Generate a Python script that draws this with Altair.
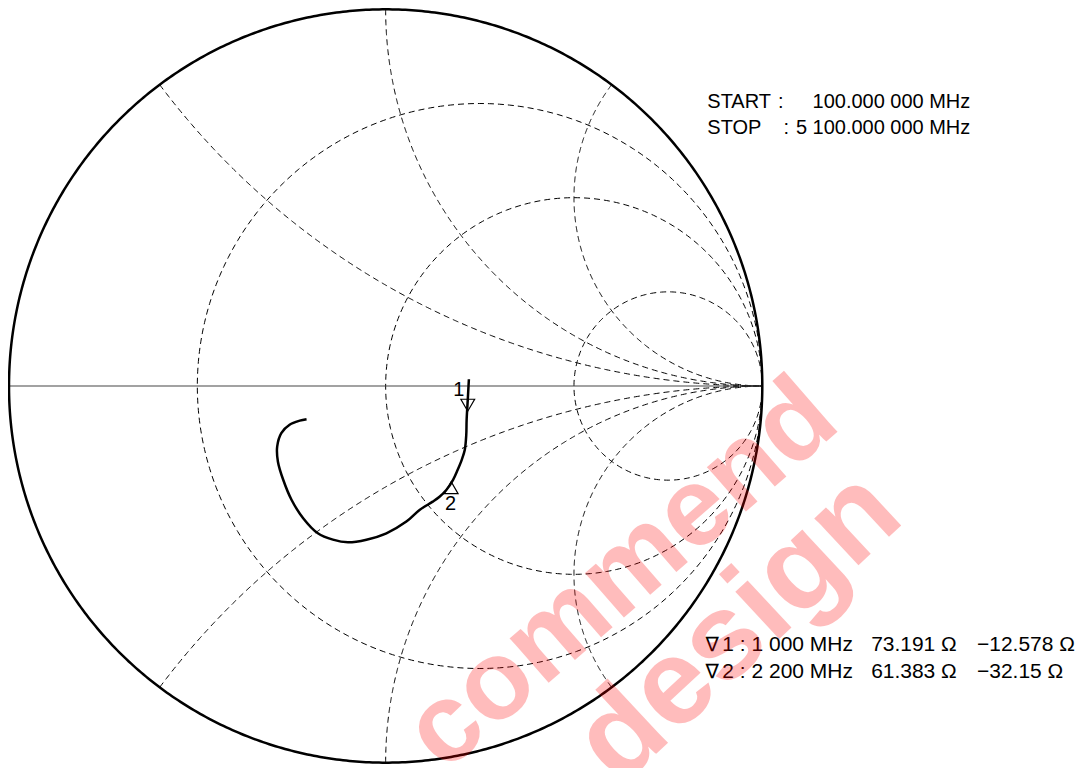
import altair as alt
import numpy as np
import pandas as pd

# Smith chart grid values
R_CIRCLES = [1/3, 1.0, 3.0]
X_ARCS = [0.5, 1.0, 2.0, -0.5, -1.0, -2.0]

trace_re = [-0.210, -0.228, -0.255, -0.277, -0.288, -0.286, -0.272, -0.250, -0.219,
            -0.180, -0.140, -0.100, -0.051, 0.002, 0.055, 0.090, 0.125, 0.143,
            0.161, 0.179, 0.191, 0.202, 0.210, 0.214, 0.215, 0.218, 0.221]
trace_im = [-0.088, -0.092, -0.103, -0.125, -0.161, -0.201, -0.249, -0.302, -0.351,
            -0.391, -0.408, -0.415, -0.408, -0.391, -0.360, -0.329, -0.307, -0.294,
            -0.276, -0.249, -0.223, -0.196, -0.170, -0.130, -0.090, -0.037, 0.018]

# markers
marker_names = ["1", "2"]
marker_re = [0.218, 0.174]
marker_im = [-0.051, -0.270]
marker_shapes = ["triangle-down", "triangle-up"]
label_re = [0.194, 0.172]
label_im = [-0.011, -0.313]

# header text
head_left = ["START", "STOP"]
head_colon_re = [1.042, 1.056]
head_values = ["100.000 000 MHz", "5 100.000 000 MHz"]
head_im = [0.739, 0.670]

# marker readout
read_sym = ["\u2207", "\u2207"]
read_freq = ["1 : 1 000 MHz", "2 : 2 200 MHz"]
read_res = ["73.191 \u03a9", "61.383 \u03a9"]
read_reac = ["\u221212.578 \u03a9", "\u221232.15 \u03a9"]
read_im = [-0.703, -0.775]

# watermark
wm_text = ["commend", "design"]
wm_re = [0.626, 0.935]
wm_im = [-0.501, -0.640]
wm_angle = [319, 317]
wm_size = [112, 122]

FONT = "Liberation Sans"

# ---------- build grid geometry ----------
rows = []
for k, r in enumerate(R_CIRCLES):
    c = r / (1 + r)
    a = 1 / (1 + r)
    t = np.linspace(0, 2 * np.pi, 361)
    for i, tt in enumerate(t):
        rows.append({"g": f"r{k}", "i": i, "re": c + a * np.cos(tt), "im": a * np.sin(tt)})
for k, x in enumerate(X_ARCS):
    u = np.linspace(0, np.pi / 2, 500, endpoint=False)
    s = np.tan(u)
    z = s + 1j * x
    g = (z - 1) / (z + 1)
    for i, gg in enumerate(g):
        rows.append({"g": f"x{k}", "i": i, "re": gg.real, "im": gg.imag})
    rows.append({"g": f"x{k}", "i": len(g), "re": 1.0, "im": 0.0})
grid_df = pd.DataFrame(rows)

t = np.linspace(0, 2 * np.pi, 721)
outer_df = pd.DataFrame({"i": np.arange(len(t)), "re": np.cos(t), "im": np.sin(t)})
axis_df = pd.DataFrame({"i": [0, 1], "re": [-1.0, 1.0], "im": [0.0, 0.0]})
trace_df = pd.DataFrame({"i": np.arange(len(trace_re)), "re": trace_re, "im": trace_im})
marker_df = pd.DataFrame({"name": marker_names, "re": marker_re, "im": marker_im,
                          "shape": marker_shapes, "lre": label_re, "lim": label_im})

head_df = pd.DataFrame({"left": head_left, "colon": [":", ":"], "cre": head_colon_re,
                        "val": head_values, "im": head_im})
read_df = pd.DataFrame({"sym": read_sym, "freq": read_freq, "res": read_res,
                        "reac": read_reac, "im": read_im})
wm_df = pd.DataFrame({"t": wm_text, "re": wm_re, "im": wm_im, "a": wm_angle})

xs = alt.Scale(domain=[-1, 1], nice=False, zero=False)
ys = alt.Scale(domain=[-1, 1], nice=False, zero=False)


def X(f="re"):
    return alt.X(f"{f}:Q", scale=xs, axis=None)


def Y(f="im"):
    return alt.Y(f"{f}:Q", scale=ys, axis=None)


grid = alt.Chart(grid_df).mark_line(color="black", strokeWidth=1, strokeDash=[6, 4]).encode(
    x=X(), y=Y(), detail="g:N", order="i:Q")
axis_line = alt.Chart(axis_df).mark_line(color="#444444", strokeWidth=1).encode(
    x=X(), y=Y(), order="i:Q")
outer = alt.Chart(outer_df).mark_line(color="black", strokeWidth=2.5).encode(
    x=X(), y=Y(), order="i:Q")
trace = alt.Chart(trace_df).mark_line(color="black", strokeWidth=2.5,
                                      interpolate="catmull-rom").encode(
    x=X(), y=Y(), order="i:Q")
markers = alt.Chart(marker_df).mark_point(filled=False, color="black", strokeWidth=1.2,
                                          size=190, opacity=1).encode(
    x=X(), y=Y(),
    shape=alt.Shape("shape:N", scale=None))
mlabels = alt.Chart(marker_df).mark_text(font=FONT, fontSize=20, color="black",
                                         align="center", baseline="middle").encode(
    x=X("lre"), y=Y("lim"), text="name:N")

head_l = alt.Chart(head_df).mark_text(font=FONT, fontSize=20, align="left",
                                      baseline="alphabetic", color="black").encode(
    x=alt.X("lx:Q", scale=xs, axis=None), y=Y(), text="left:N").transform_calculate(lx="0.854")
head_c = alt.Chart(head_df).mark_text(font=FONT, fontSize=20, align="left",
                                      baseline="alphabetic", color="black").encode(
    x=X("cre"), y=Y(), text="colon:N")
head_v = alt.Chart(head_df).mark_text(font=FONT, fontSize=20, align="right",
                                      baseline="alphabetic", color="black").encode(
    x=alt.X("vx:Q", scale=xs, axis=None), y=Y(), text="val:N").transform_calculate(vx="1.552")

read_layers = [
    alt.Chart(read_df).mark_text(font="DejaVu Sans", fontSize=20, fontWeight="normal",
                                 align="left", baseline="alphabetic", color="black").encode(
        x=alt.X("px:Q", scale=xs, axis=None), y=Y(), text="sym:N"
    ).transform_calculate(px="0.849")
]
for col, xpos in [("freq", 0.894), ("res", 1.289), ("reac", 1.570)]:
    read_layers.append(
        alt.Chart(read_df).mark_text(font=FONT, fontSize=21, align="left",
                                     baseline="alphabetic", color="black").encode(
            x=alt.X("px:Q", scale=xs, axis=None), y=Y(), text=f"{col}:N"
        ).transform_calculate(px=str(xpos)))

wm_layers = []
for k in range(len(wm_text)):
    wm_layers.append(
        alt.Chart(wm_df.iloc[[k]]).mark_text(font=FONT, fontWeight="bold", fontSize=wm_size[k],
                                             angle=wm_angle[k], align="center",
                                             baseline="middle", color="#ff0000",
                                             opacity=0.26).encode(
            x=X(), y=Y(), text="t:N"))

chart = alt.layer(grid, axis_line, outer, trace, markers, mlabels,
                  head_l, head_c, head_v, *read_layers, *wm_layers).properties(
    width=754, height=754,
    autosize=alt.AutoSizeParams(type="none"),
    padding={"left": 1, "top": 1, "right": 320, "bottom": 6},
).configure_view(stroke=None)

chart.save("out.html", embed_options={"renderer": "svg", "actions": False})
